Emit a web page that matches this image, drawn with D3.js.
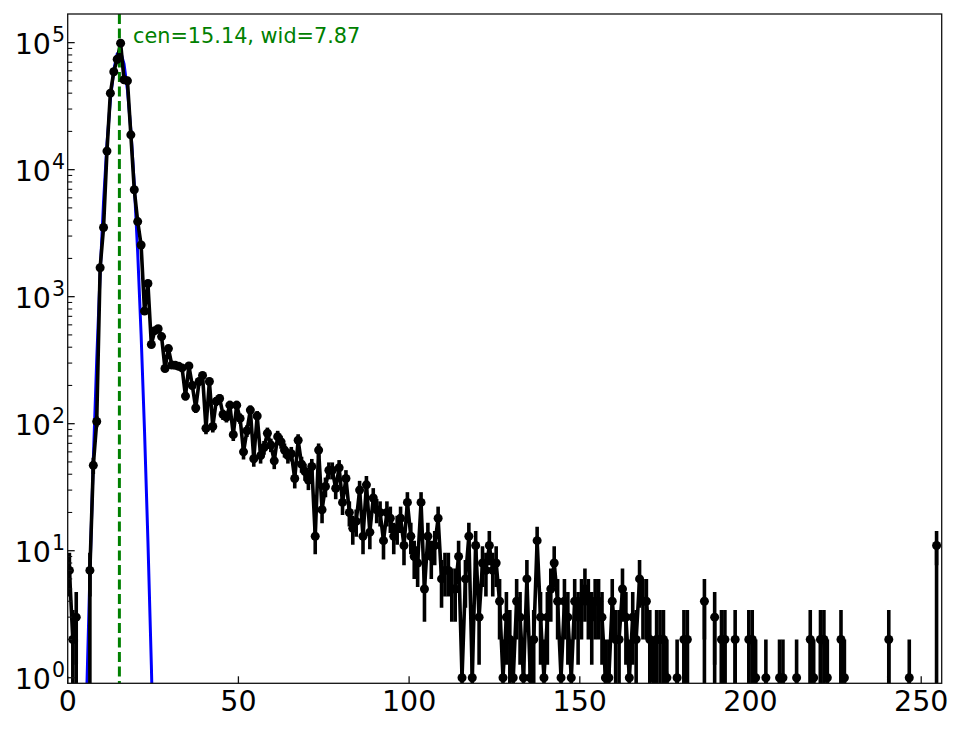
<!DOCTYPE html>
<html>
<head>
<meta charset="utf-8">
<script src="https://cdn.jsdelivr.net/npm/d3@7"></script>
<style>
  body { margin: 0; background: #fff; }
  text { font-family: "DejaVu Sans", sans-serif; }
</style>
</head>
<body>
<div id="chart"></div>
<script>
// counts per bin, bin i is centred on i + 0.5
const counts = [
  7, 2, 3, 0, 0, 0, 7, 47, 104, 1690,
  3500, 14000, 40000, 59000, 74000, 99000, 51000, 50000, 18800, 6950,
  3900, 2550, 770, 1270, 420, 540, 560, 485, 272, 390,
  290, 288, 283, 275, 165, 285, 200, 133, 215, 240,
  92, 215, 95, 150, 158, 118, 113, 140, 82, 140,
  110, 60, 88, 128, 53, 115, 56, 65, 84, 68,
  51, 79, 72, 62, 56, 58, 37, 74, 48, 42,
  36, 46, 13, 62, 21, 32, 43, 43, 31, 45,
  24, 37, 20, 15, 17, 30, 13, 33, 14, 26,
  21, 20, 12, 20, 18, 13, 15, 18, 11, 24,
  13, 9, 8, 24, 5, 13, 9, 11, 18, 6,
  7, 7, 5, 5, 9, 1, 6, 13, 1, 11,
  3, 8, 7, 11, 7, 8, 4, 1, 3, 2,
  1, 4, 3, 1, 6, 1, 2, 12, 3, 1,
  3, 5, 8, 4, 1, 4, 3, 1, 4, 3,
  4, 5, 4, 3, 4, 4, 3, 1, 1, 4,
  2, 2, 5, 3, 1, 3, 2, 6, 4, 4,
  2, 1, 2, 2, 2, 1, 0, 0, 1, 0,
  2, 2, 0, 0, 0, 0, 4, 0, 0, 3,
  0, 2, 2, 0, 0, 2, 0, 0, 0, 2,
  2, 1, 0, 0, 1, 0, 0, 0, 1, 1,
  0, 0, 0, 1, 0, 0, 0, 2, 1, 0,
  2, 2, 1, 0, 0, 0, 2, 1, 0, 0,
  0, 0, 0, 0, 0, 0, 0, 0, 0, 0,
  2, 0, 0, 0, 0, 0, 1, 0, 0, 0,
  0, 0, 0, 0, 11
];

// gaussian fit read at the bin centres, starting at bin 3
const fitFirstBin = 3;
const fitValues = [
  0.0029, 0.048, 0.64, 6.5, 52, 317, 1510, 5575, 15970, 35470,
  61100, 81640, 84600, 67980, 42380, 20490, 7680, 2233, 504, 88,
  11.9, 1.26, 0.10, 0.0065
];

const fitCen = 15.14;
const fitLabel = "cen=15.14, wid=7.87";

const xTicks = [0, 50, 100, 150, 200, 250];
const yExponents = [0, 1, 2, 3, 4, 5];

const W = 964, H = 729;
const pL = 67.7, pR = 941.7, pT = 14, pB = 683.3;

const svg = d3.select("#chart").append("svg")
  .attr("width", W)
  .attr("height", H);

const x = d3.scaleLinear().domain([0, 256]).range([pL, pR]);
const y = d3.scaleLog().domain([0.904, 1.68e5]).range([pB, pT]);

// log axis: anything <= 0 is pushed far below
const TINY = 1e-300;
const yv = v => y(v > 0 ? v : TINY);

svg.append("clipPath").attr("id", "plot")
  .append("rect")
  .attr("x", pL).attr("y", pT)
  .attr("width", pR - pL).attr("height", pB - pT);

const plot = svg.append("g").attr("clip-path", "url(#plot)");

const bins = counts.map((c, i) => ({ x: i + 0.5, c: c }));

// fit
const fitPts = fitValues.map((v, i) => ({ x: fitFirstBin + i + 0.5, v: v }));
plot.append("path")
  .datum(fitPts)
  .attr("fill", "none")
  .attr("stroke", "#0000ff")
  .attr("stroke-width", 3)
  .attr("stroke-linejoin", "round")
  .attr("d", d3.line().x(d => x(d.x)).y(d => yv(d.v)));

// data line
plot.append("path")
  .datum(bins)
  .attr("fill", "none")
  .attr("stroke", "#000")
  .attr("stroke-width", 3.6)
  .attr("stroke-linejoin", "round")
  .attr("d", d3.line().x(d => x(d.x)).y(d => yv(d.c)));

// error bars, sqrt(N)
plot.selectAll(".err")
  .data(bins.filter(d => d.c > 0))
  .enter()
  .append("line")
  .attr("x1", d => x(d.x))
  .attr("x2", d => x(d.x))
  .attr("y1", d => yv(d.c - Math.sqrt(d.c)))
  .attr("y2", d => yv(d.c + Math.sqrt(d.c)))
  .attr("stroke", "#000")
  .attr("stroke-width", 3.6);

// vertical line at fitted centre
plot.append("line")
  .attr("x1", x(fitCen)).attr("x2", x(fitCen))
  .attr("y1", pT).attr("y2", pB)
  .attr("stroke", "#008000")
  .attr("stroke-width", 3)
  .attr("stroke-dasharray", "10,4.5");

plot.selectAll(".pt")
  .data(bins.filter(d => d.c > 0))
  .enter()
  .append("circle")
  .attr("cx", d => x(d.x))
  .attr("cy", d => yv(d.c))
  .attr("r", 4.5)
  .attr("fill", "#000");

svg.append("text")
  .attr("x", 133)
  .attr("y", 42.7)
  .attr("fill", "#008000")
  .attr("font-size", 20.8)
  .text(fitLabel);

// frame
svg.append("rect")
  .attr("x", pL).attr("y", pT)
  .attr("width", pR - pL).attr("height", pB - pT)
  .attr("fill", "none")
  .attr("stroke", "#111")
  .attr("stroke-width", 1.3);

// x ticks (inward)
const gx = svg.append("g");
xTicks.forEach(t => {
  gx.append("line")
    .attr("x1", x(t)).attr("x2", x(t))
    .attr("y1", pB).attr("y2", pB - 7)
    .attr("stroke", "#111").attr("stroke-width", 1.3);
  gx.append("text")
    .attr("x", x(t))
    .attr("y", pB + 28)
    .attr("text-anchor", "middle")
    .attr("font-size", 28.5)
    .attr("fill", "#000")
    .text(t);
});

// y ticks, major and minor
const gy = svg.append("g");
yExponents.forEach(e => {
  const yy = y(Math.pow(10, e));
  gy.append("line")
    .attr("x1", pL).attr("x2", pL + 7)
    .attr("y1", yy).attr("y2", yy)
    .attr("stroke", "#111").attr("stroke-width", 1.3);
  const lab = gy.append("text")
    .attr("x", 65)
    .attr("y", yy + 11)
    .attr("text-anchor", "end")
    .attr("font-size", 28.5)
    .attr("fill", "#000");
  lab.append("tspan").text("10");
  lab.append("tspan")
    .attr("dy", -11.5)
    .attr("dx", 1)
    .attr("font-size", 20.5)
    .text(e);
  for (let m = 2; m <= 9; m++) {
    const v = m * Math.pow(10, e);
    if (v > y.domain()[1]) break;
    gy.append("line")
      .attr("x1", pL).attr("x2", pL + 4.5)
      .attr("y1", y(v)).attr("y2", y(v))
      .attr("stroke", "#111").attr("stroke-width", 1.1);
  }
});
</script>
</body>
</html>
